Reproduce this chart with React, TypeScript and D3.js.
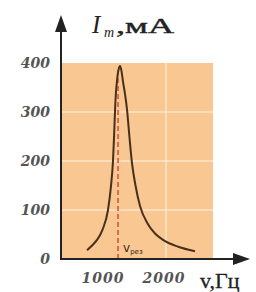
import * as d3 from "d3";

// resonance curve, frequency in Hz, current amplitude in mA
const freq = [705, 800, 869, 960, 1049, 1095, 1131, 1150, 1170, 1200, 1225, 1246, 1268, 1295, 1330, 1361, 1400, 1443, 1500, 1574, 1700, 1820, 1951, 2200, 2475];
const current = [18, 29, 39, 60, 100, 145, 200, 255, 320, 368, 388, 394, 385, 362, 335, 305, 250, 195, 150, 108, 72, 52, 39, 25, 16];
const yTicks = [0, 100, 200, 300, 400];
const xTicks = [1000, 2000];
const xGrid = [2000];
const resFreq = 1230;

const width = 256;
const height = 292;

export default function App() {
  const x = d3.scaleLinear().domain([1000, 2000]).range([105, 166]);
  const y = d3.scaleLinear().domain([0, 400]).range([259, 63]);
  const x0 = 61;

  const line = d3
    .line<number>()
    .x((d, i) => x(freq[i]))
    .y((d) => y(d))
    .curve(d3.curveMonotoneX);

  const tickFont = "'DejaVu Serif', serif";

  return (
    <svg width={width} height={height} style={{ position: "absolute", left: 0, top: 0, background: "#fff" }}>
      {/* plot area */}
      <rect x={x0} y={y(400)} width={213 - x0} height={y(0) - y(400)} fill="#f9c791" />
      {yTicks.slice(1, 4).map((t) => (
        <line key={t} x1={x0} x2={213} y1={y(t)} y2={y(t)} stroke="#fff3e4" strokeWidth={1} />
      ))}
      {xGrid.map((t) => (
        <line key={t} x1={x(t)} x2={x(t)} y1={y(0)} y2={y(400)} stroke="#fff3e4" strokeWidth={1} />
      ))}

      {/* resonance line */}
      <line x1={x(resFreq) - 1} x2={x(resFreq) - 1} y1={y(0)} y2={y(390)} stroke="#e0533f" strokeWidth={1.6} strokeDasharray="5,3" />
      <path d={line(current) ?? ""} fill="none" stroke="#4a2f1c" strokeWidth={2} />
      <text x={x(resFreq) + 4} y={y(15)} fontFamily="'DejaVu Sans', sans-serif" fontSize={12} fill="#3a2a20">
        v<tspan fontSize={7} dy={2}>рез</tspan>
      </text>

      {/* axes */}
      <line x1={x0} x2={x0} y1={y(0) + 1} y2={30} stroke="#222" strokeWidth={2} />
      <path d={`M${x0 - 6},32 L${x0},15 L${x0 + 6},32 Z`} fill="#222" />
      <line x1={x0} x2={236} y1={y(0)} y2={y(0)} stroke="#222" strokeWidth={2} />
      <path d={`M233,${y(0) - 6} L250,${y(0)} L233,${y(0) + 6} Z`} fill="#222" />

      {yTicks.map((t) => (
        <text key={t} x={50} y={y(t) + 5} textAnchor="end" fontFamily={tickFont} fontStyle="italic" fontWeight="bold" fontSize={14} fill="#555">
          {t}
        </text>
      ))}
      {xTicks.map((t) => (
        <text key={t} x={x(t) - 2} y={283} textAnchor="middle" fontFamily={tickFont} fontStyle="italic" fontWeight="bold" fontSize={14} letterSpacing={1} fill="#555">
          {t}
        </text>
      ))}

      {/* axis labels */}
      <g fontFamily="'Liberation Serif', serif" fill="#222">
        <text x={92} y={33} fontSize={25} fontStyle="italic">I</text>
        <text x={104} y={37} fontSize={14} fontStyle="italic">m</text>
        <text x={116} y={33} fontSize={21} stroke="#222" strokeWidth={0.4} textLength={58} lengthAdjust="spacingAndGlyphs">,мA</text>
      </g>
      <text x={200} y={288} fontFamily="'Liberation Serif', serif" fontSize={22} fill="#222" stroke="#222" strokeWidth={0.3}>
        v,Гц
      </text>
    </svg>
  );
}
